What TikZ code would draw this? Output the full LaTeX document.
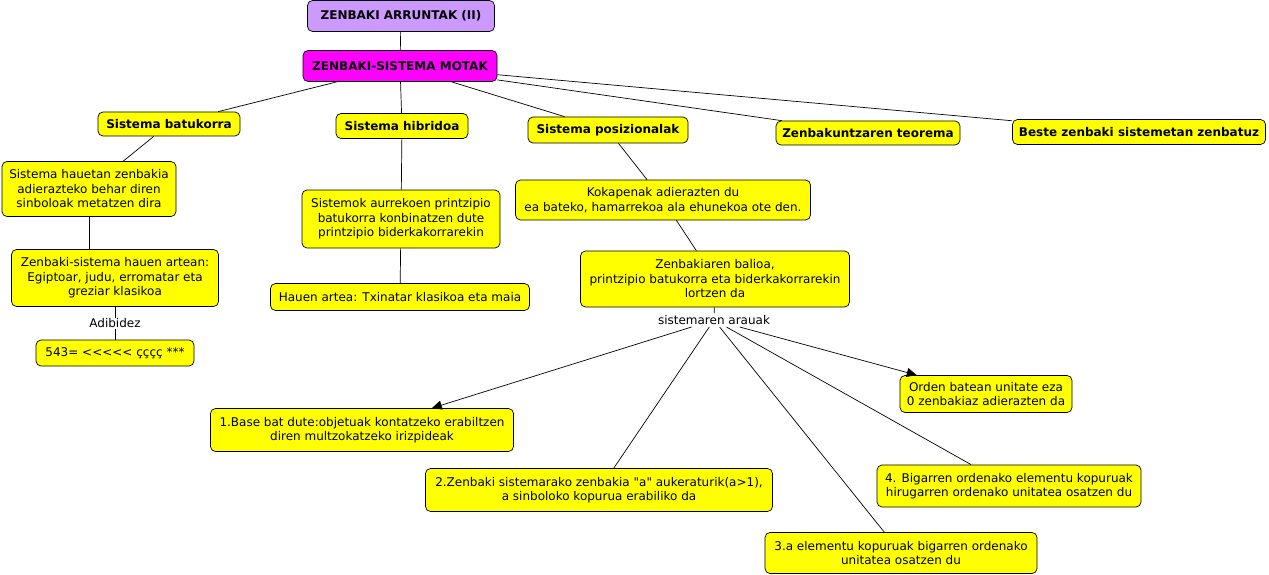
\documentclass[tikz,border=0pt]{standalone}
\usepackage{fontspec}
\setmainfont[Ligatures=TeXOff]{DejaVu Sans}
\usetikzlibrary{arrows.meta,positioning}
\definecolor{conceptyellow}{HTML}{FFFF00}
\definecolor{titlelilac}{HTML}{CC99FF}
\definecolor{titlemagenta}{HTML}{FF00FF}

\begin{document}
\begin{tikzpicture}[x=1pt,y=-1pt,line width=0.7pt,>={Triangle[length=10pt,width=9pt]},
  every node/.style={font=\fontsize{12}{14.5}\selectfont},
  concept/.style={draw,rounded corners=5pt,fill=conceptyellow,align=center,inner sep=2pt,minimum height=26pt},
  head/.style={concept,font=\fontsize{12}{14.5}\selectfont\bfseries},
  link/.style={fill=white,inner sep=1pt}]
\useasboundingbox (0,0) rectangle (1269,575);
\node[head,fill=titlelilac,minimum width=187pt,minimum height=31pt] (title) at (401,16) {ZENBAKI ARRUNTAK (II)};
\node[head,fill=titlemagenta,minimum width=194pt,minimum height=31pt] (types) at (400,66) {ZENBAKI-SISTEMA MOTAK};
\node[head,minimum width=142pt,minimum height=24pt] (add) at (169,124) {Sistema batukorra};
\node[head,minimum width=132pt,minimum height=25pt] (hyb) at (402,126) {Sistema hibridoa};
\node[head,minimum width=160pt,minimum height=26pt] (pos) at (608,130) {Sistema posizionalak};
\node[head,minimum width=184pt,minimum height=24pt] (thm) at (868,133) {Zenbakuntzaren teorema};
\node[head,minimum width=253pt,minimum height=25pt] (other) at (1139,132) {Beste zenbaki sistemetan zenbatuz};

\node[concept,minimum width=174pt,minimum height=55pt] (addtxt) at (89,189) {Sistema hauetan zenbakia\\adierazteko behar diren\\sinboloak metatzen dira};
\node[concept,minimum width=207pt,minimum height=57pt] (addsys) at (115,278) {Zenbaki-sistema hauen artean:\\Egiptoar, judu, erromatar eta\\greziar klasikoa};
\node[concept,minimum width=158pt] (addex) at (115,353) {543= <<<<< çççç ***};

\node[concept,minimum width=198pt,minimum height=58pt] (hybtxt) at (401,219) {Sistemok aurrekoen printzipio\\batukorra konbinatzen dute\\printzipio biderkakorrarekin};
\node[concept,minimum width=259pt,minimum height=27pt] (hybsys) at (400,297) {Hauen artea: Txinatar klasikoa eta maia};

\node[concept,minimum width=295pt,minimum height=40pt] (place) at (663,200) {Kokapenak adierazten du\\ea bateko, hamarrekoa ala ehunekoa ote den.};
\node[concept,minimum width=269pt,minimum height=56pt] (value) at (715,279) {Zenbakiaren balioa,\\printzipio batukorra eta biderkakorrarekin\\lortzen da};
\node[inner sep=2pt] (rules) at (714,320) {sistemaren arauak};

\node[concept,minimum width=303pt,minimum height=43pt] (r1) at (362,430) {1.Base bat dute:objetuak kontatzeko erabiltzen\\diren multzokatzeko irizpideak};
\node[concept,minimum width=347pt,minimum height=43pt] (r2) at (599,490) {2.Zenbaki sistemarako zenbakia "a" aukeraturik(a>1),\\a sinboloko kopurua erabiliko da};
\node[concept,minimum width=272pt,minimum height=41pt] (r3) at (901,553) {3.a elementu kopuruak bigarren ordenako\\unitatea osatzen du};
\node[concept,minimum width=264pt,minimum height=42pt] (r4) at (1009,486) {4. Bigarren ordenako elementu kopuruak\\hirugarren ordenako unitatea osatzen du};
\node[concept,minimum width=172pt,minimum height=37pt] (zero) at (986,394) {Orden batean unitate eza\\0 zenbakiaz adierazten da};

\draw (title) -- (types);
\draw (types) -- (add);
\draw (types) -- (hyb);
\draw (types) -- (pos);
\draw (types) -- (thm);
\draw (types) -- (other);
\draw (add) -- (addtxt);
\draw (addtxt) -- (addtxt |- addsys.north);
\draw (addsys) -- node[link] {Adibidez} (addex);
\draw (hyb) -- (hybtxt);
\draw (hybtxt) -- (hybsys);
\draw (pos) -- (place);
\draw (place) -- (value);
\draw (value) -- (rules);
\draw[->] (rules) -- (r1);
\draw (rules) -- (r2);
\draw (rules) -- (r3);
\draw (rules) -- (r4);
\draw[->] (rules) -- (zero);
\end{tikzpicture}
\end{document}
